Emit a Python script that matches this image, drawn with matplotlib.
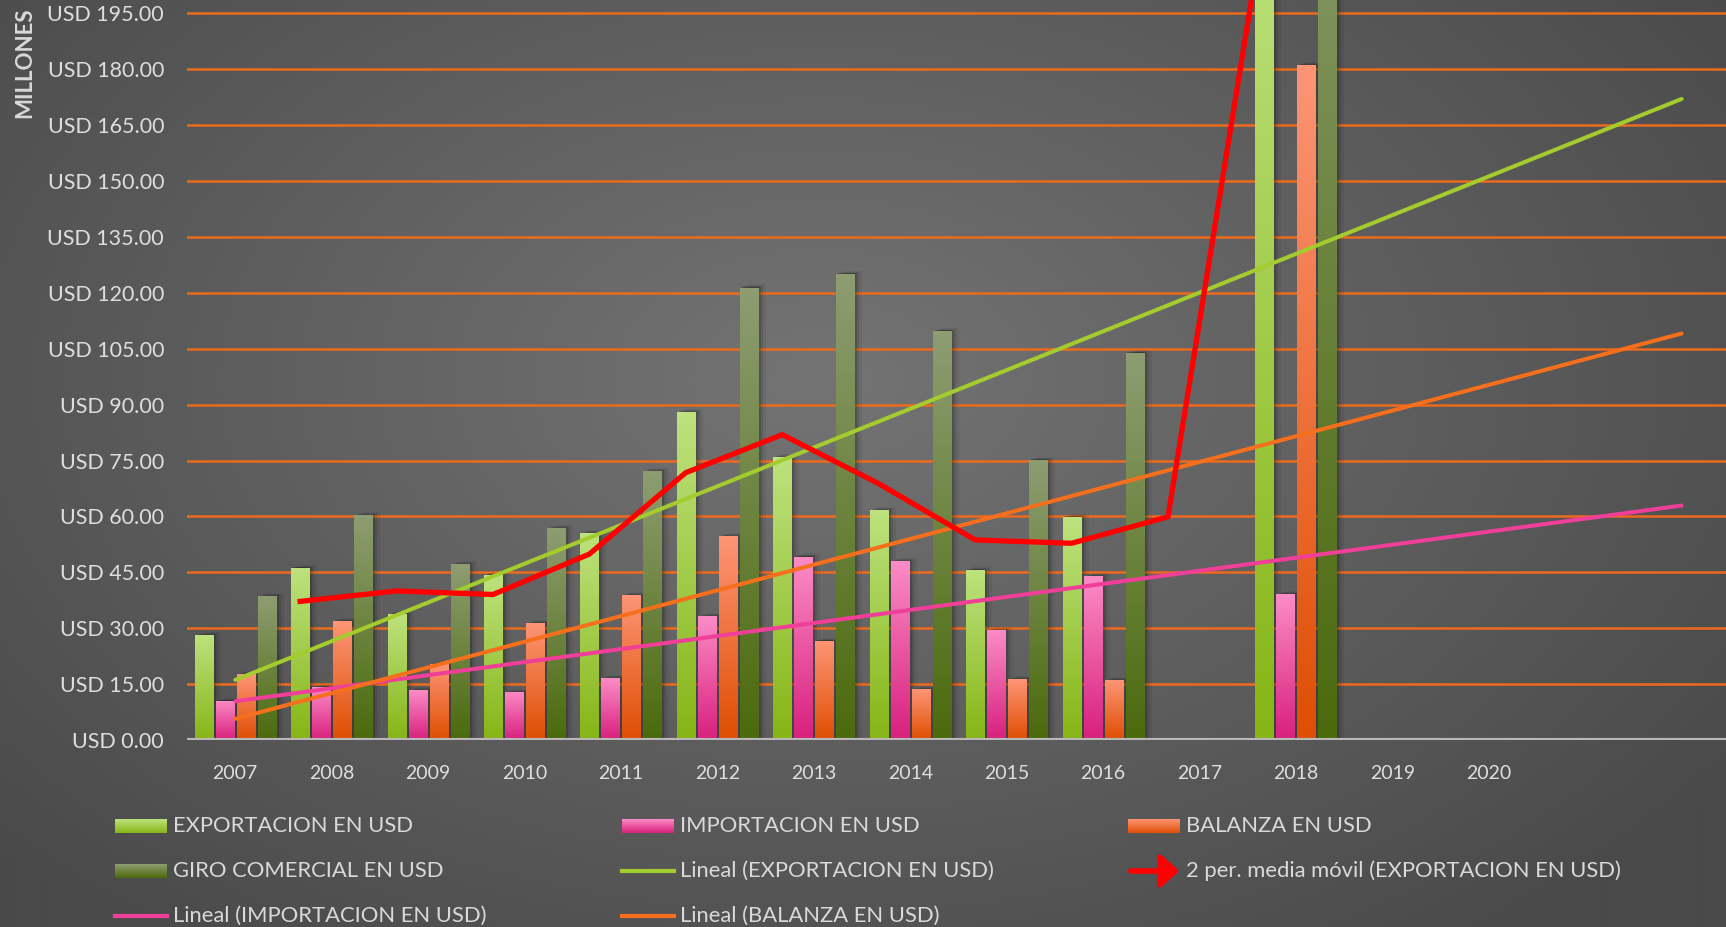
import numpy as np
import matplotlib
matplotlib.use("Agg")
import matplotlib.pyplot as plt
from matplotlib.colors import to_rgb
from matplotlib.lines import Line2D
from matplotlib.patches import Rectangle, FancyArrowPatch

plt.rcParams['font.family'] = ['Lato', 'DejaVu Sans']

# data (millones de USD), blanks = nan
years = ['2007', '2008', '2009', '2010', '2011', '2012', '2013',
         '2014', '2015', '2016', '2017', '2018', '2019', '2020']
nan = np.nan
exportacion = [28.2, 46.2, 33.8, 44.3, 55.5, 88.0, 75.9, 61.7, 45.7, 59.9, nan, 220.2, nan, nan]
importacion = [10.5, 14.2, 13.4, 12.9, 16.6, 33.2, 49.2, 48.0, 29.4, 43.9, nan, 39.1, nan, nan]
balanza = [17.7, 31.9, 20.4, 31.4, 38.9, 54.7, 26.6, 13.6, 16.3, 16.0, nan, 181.1, nan, nan]
giro = [38.6, 60.4, 47.2, 56.9, 72.2, 121.4, 125.1, 109.8, 75.2, 103.9, nan, 259.3, nan, nan]
forecast = 2

W, H = 1726, 927
fig = plt.figure(figsize=(W / 100, H / 100), dpi=100)

# radial gray background
bg = fig.add_axes([0, 0, 1, 1], zorder=-10)
yy, xx = np.mgrid[0:H, 0:W]
d = np.sqrt(((xx - 820) / 1100.0) ** 2 + ((yy - 380) / 700.0) ** 2)
d = np.clip(d, 0, 1)
c0, c1 = np.array(to_rgb('#747474')), np.array(to_rgb('#4a4a4a'))
img = c0[None, None, :] * (1 - d[..., None]) + c1[None, None, :] * d[..., None]
bg.imshow(img, aspect='auto', extent=[0, 1, 0, 1])
bg.set_axis_off()

ax = fig.add_axes([187 / W, (H - 740) / H, (W - 187) / W, 740 / H])
ax.patch.set_alpha(0)


def gradient(top, bottom, n=256):
    t = np.linspace(0, 1, n)[:, None]
    a, b = np.array(to_rgb(top)), np.array(to_rgb(bottom))
    g = a[None, :] * (1 - t) + b[None, :] * t
    return g[:, None, :]


series = [
    (exportacion, '#bde27e', '#86b515', 'EXPORTACION EN USD'),
    (importacion, '#fb8cc6', '#d8207d', 'IMPORTACION EN USD'),
    (balanza, '#fd9576', '#df4e02', 'BALANZA EN USD'),
    (giro, '#8e9d72', '#4b6a0c', 'GIRO COMERCIAL EN USD'),
]

x = np.arange(len(years))
step = 0.218
width = 0.187
px = 1 / 96.4
for k, (vals, top, bottom, label) in enumerate(series):
    pos = x + (k - 1.5) * step
    bars = ax.bar(pos, vals, width, color=bottom, zorder=3, linewidth=0)
    for b in bars:
        h = b.get_height()
        if not np.isfinite(h):
            continue
        x0 = b.get_x()
        for s, al in [(1, 0.18), (3, 0.14), (5, 0.10), (8, 0.06)]:
            ax.add_patch(Rectangle((x0 + s * px, 0), width, h + 0.4 * s / 3.7,
                                   color='black', alpha=al, lw=0, zorder=2))
        im = ax.imshow(gradient(top, bottom), extent=[x0, x0 + width, 0, h],
                       aspect='auto', zorder=3.1, interpolation='bilinear')
        im.set_clip_path(b)

# trend lines (linear, forecast 2 periods)
ntot = len(years) + forecast
xt = np.arange(ntot)
trends = [(exportacion, '#a4cc2e'), (importacion, '#ef3f98'), (balanza, '#f66f1c')]
for vals, col in trends:
    v = np.array(vals)
    ok = np.isfinite(v)
    p = np.polyfit(x[ok] + 1, v[ok], 1)
    ax.plot(xt, np.polyval(p, xt + 1), color=col, lw=2.9, zorder=5,
            solid_capstyle='round')

# 2 period moving average of exports
e = np.array(exportacion)
ma = [nan]
for i in range(1, len(e)):
    w = e[i - 1:i + 1]
    ma.append(np.nanmean(w) if np.isfinite(w).any() else nan)
ax.plot(x + (-1.5) * step, ma, color='#ff0000', lw=3.8, zorder=6,
        solid_joinstyle='miter')

ax.set_xlim(-0.5, ntot - 0.54)
ax.set_ylim(0, 198.6)
yt = np.arange(0, 196, 15)
ax.set_yticks(yt)
ax.set_yticklabels([f'USD {v:.2f}' for v in yt], fontsize=15.5, color='#dedede')
ax.set_xticks(x)
ax.set_xticklabels(years, fontsize=14, color='#dedede')
ax.tick_params(length=0)
ax.tick_params(axis='y', pad=16.5)
ax.tick_params(axis='x', pad=18)
for v in yt[1:]:
    ax.axhline(v, color='#ee6a1e', lw=1.8, zorder=1)
for sp in ax.spines.values():
    sp.set_visible(False)
ax.axhline(0, color='#b8b8b8', lw=3, zorder=4)

fig.text(25 / W, 1 - 63 / H, 'MILLONES', rotation=90, ha='center', va='center',
         fontsize=16, fontweight='bold', color='#d9d9d9')

# legend, three columns, row-major
cols = [115, 622, 1128]
rows = [826, 871, 916]
entries = [
    ('bar', 0), ('bar', 1), ('bar', 2),
    ('bar', 3), ('line', '#a4cc2e'), ('arrow', '#ff0000'),
    ('line', '#ef3f98'), ('line', '#f66f1c'),
]
labels = [series[0][3], series[1][3], series[2][3], series[3][3],
          'Lineal (EXPORTACION EN USD)', '2 per. media móvil (EXPORTACION EN USD)',
          'Lineal (IMPORTACION EN USD)', 'Lineal (BALANZA EN USD)']
for i, ((kind, arg), lab) in enumerate(zip(entries, labels)):
    cx = cols[i % 3]
    cy = rows[i // 3]
    yf = 1 - cy / H
    if kind == 'bar':
        la = fig.add_axes([cx / W, (H - cy - 7) / H, 52 / W, 14 / H])
        la.imshow(gradient(series[arg][1], series[arg][2]), aspect='auto',
                  extent=[0, 1, 0, 1])
        la.set_axis_off()
    elif kind == 'line':
        fig.add_artist(Line2D([cx / W, (cx + 52) / W], [yf, yf], color=arg,
                              lw=3, transform=fig.transFigure))
    else:
        fig.add_artist(FancyArrowPatch((cx / W, yf), ((cx + 54) / W, yf),
                                       transform=fig.transFigure, color=arg,
                                       arrowstyle='-|>,head_length=0.5,head_width=0.45',
                                       mutation_scale=22, lw=4))
    fig.text((cx + 58) / W, yf, lab, ha='left', va='center', fontsize=15.8,
             color='#d9d9d9')

fig.savefig('out.png', dpi=100)
